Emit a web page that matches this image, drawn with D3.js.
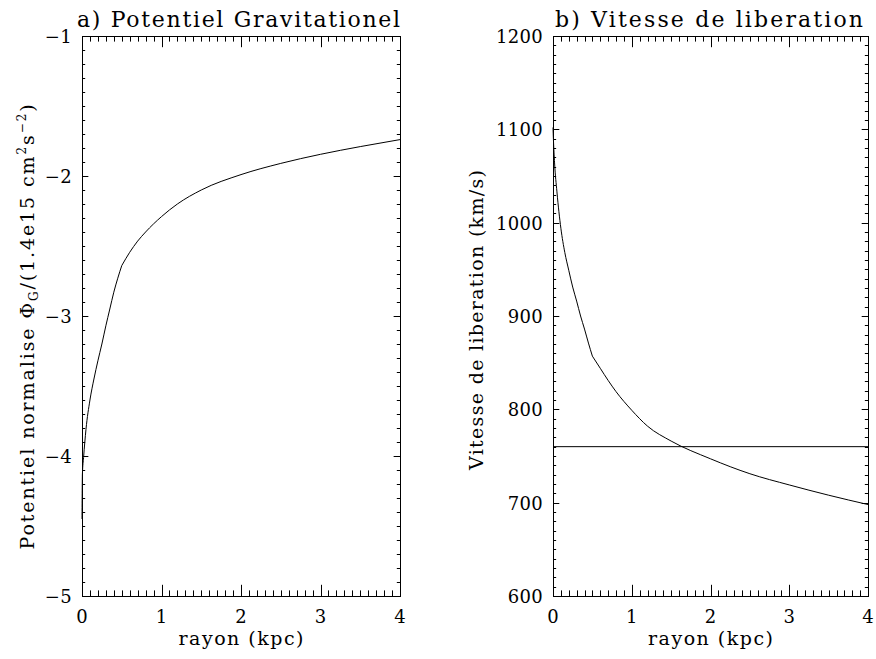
<!DOCTYPE html>
<html><head><meta charset="utf-8">
<script src="https://cdn.jsdelivr.net/npm/d3@7"></script>
<style>
body{margin:0;background:#fff}
text{font-family:"DejaVu Serif",serif;fill:#000}
</style></head>
<body><svg id="c" width="876" height="659"></svg>
<script>
// ---- data ----
const radius    = [0, 0.005, 0.02, 0.05, 0.1, 0.15, 0.2, 0.25, 0.3, 0.35, 0.4, 0.45, 0.5, 0.6, 0.7, 0.8, 1.0, 1.2, 1.5, 2.0, 2.5, 3.0, 3.5, 4.0];
const potentiel = [-4.45, -4.13, -4.01, -3.81, -3.60, -3.45, -3.32, -3.20, -3.07, -2.95, -2.83, -2.73, -2.64, -2.545, -2.465, -2.40, -2.29, -2.20, -2.10, -1.99, -1.91, -1.845, -1.79, -1.74];
const vitesse   = [1102, 1090, 1064, 1033, 994, 968, 949, 931, 916, 900, 886, 871, 857, 844, 831, 819, 799, 782, 766, 747, 731, 719, 708, 698];
const seuil = [760];
const xTicks = [0, 1, 2, 3, 4];
const yTicksA = [-5, -4, -3, -2, -1];
const yTicksB = [600, 700, 800, 900, 1000, 1100, 1200];
const titles = ["a) Potentiel Gravitationel", "b) Vitesse de liberation"];
const xLabel = "rayon (kpc)";
const yLabelB = "Vitesse de liberation (km/s)";
const rayonCoeur = 0.5;   // break in slope of both curves

const svg = d3.select("#c");
const yTop = 36, yBot = 596;

function panel(cfg) {
  const x = d3.scaleLinear().domain([0, 4]).range([cfg.x0, cfg.x1]);
  const y = d3.scaleLinear().domain(cfg.ydom).range([yBot, yTop]);
  const g = svg.append("g");
  const xMinor = d3.range(0, 4.0001, 0.1);
  const yMinor = d3.range(cfg.ydom[0], cfg.ydom[1] + 1e-6, cfg.yminor);
  const W = cfg.x1 - cfg.x0, H = yBot - yTop;
  const xMaj = 0.02 * H, yMaj = 0.02 * W;
  const tk = g.append("g").attr("stroke", "#000").attr("stroke-width", 1);
  xMinor.forEach(v => {
    const isMaj = Math.abs(v - Math.round(v)) < 1e-6;
    const L = isMaj ? xMaj : xMaj / 2;
    const px = Math.round(x(v)) + 0.5;
    tk.append("line").attr("x1", px).attr("x2", px).attr("y1", yBot).attr("y2", yBot - L);
    tk.append("line").attr("x1", px).attr("x2", px).attr("y1", yTop).attr("y2", yTop + L);
  });
  yMinor.forEach(v => {
    const r = (v - cfg.ydom[0]) / cfg.ystep;
    const isMaj = Math.abs(r - Math.round(r)) < 1e-6;
    const L = isMaj ? yMaj : yMaj / 2;
    const py = Math.round(y(v)) + 0.5;
    tk.append("line").attr("x1", cfg.x0).attr("x2", cfg.x0 + L).attr("y1", py).attr("y2", py);
    tk.append("line").attr("x1", cfg.x1).attr("x2", cfg.x1 - L).attr("y1", py).attr("y2", py);
  });
  g.append("rect").attr("x", cfg.x0 + 0.5).attr("y", yTop + 0.5)
    .attr("width", W).attr("height", H).attr("fill", "none").attr("stroke", "#000");
  g.selectAll(".xl").data(xTicks).join("text")
    .attr("x", d => x(d)).attr("y", yBot + 27).attr("text-anchor", "middle")
    .attr("font-size", 18).text(d => d);
  g.selectAll(".yl").data(cfg.yticks).join("text")
    .attr("x", cfg.x0 - 10).attr("y", d => y(d) + 7).attr("text-anchor", "end")
    .attr("font-size", 18).attr("letter-spacing", 0.3).text(d => d < 0 ? "\u2212" + Math.abs(d) : d);
  g.append("text").attr("x", (cfg.x0 + cfg.x1) / 2).attr("y", 645).attr("text-anchor", "middle")
    .attr("font-size", 19).attr("textLength", 125).attr("lengthAdjust", "spacing").text(xLabel);
  g.append("text").attr("x", cfg.tx).attr("y", 27).attr("font-size", 22)
    .attr("textLength", cfg.tw).attr("lengthAdjust", "spacing").text(cfg.title);
  return {x, y, g};
}

const A = panel({x0: 82, x1: 400, ydom: [-5, -1], ystep: 1, yminor: 0.1, yticks: yTicksA, tx: 77, tw: 323, title: titles[0]});
const B = panel({x0: 553, x1: 868, ydom: [600, 1200], ystep: 100, yminor: 10, yticks: yTicksB, tx: 555, tw: 308, title: titles[1]});

const data = radius.map((r, i) => ({r, p: potentiel[i], v: vitesse[i]}));
const inner = data.filter(d => d.r <= rayonCoeur);
const outer = data.filter(d => d.r >= rayonCoeur);
[inner, outer].forEach(seg => {
  A.g.append("path").datum(seg).attr("fill", "none").attr("stroke", "#000").attr("stroke-width", 1)
    .attr("d", d3.line().curve(d3.curveMonotoneX).x(d => A.x(d.r)).y(d => A.y(d.p)));
  B.g.append("path").datum(seg).attr("fill", "none").attr("stroke", "#000").attr("stroke-width", 1)
    .attr("d", d3.line().curve(d3.curveMonotoneX).x(d => B.x(d.r)).y(d => B.y(d.v)));
});
B.g.selectAll(".seuil").data(seuil).join("line")
  .attr("x1", B.x(0)).attr("x2", B.x(4)).attr("y1", d => B.y(d)).attr("y2", d => B.y(d))
  .attr("stroke", "#000").attr("stroke-width", 1);

const la = svg.append("text").attr("transform", "translate(34,326) rotate(-90)")
  .attr("text-anchor", "middle").attr("font-size", 19).attr("letter-spacing", 1.9);
la.append("tspan").text("Potentiel normalise \u03A6");
la.append("tspan").attr("dy", 4).attr("font-size", 12).text("G");
la.append("tspan").attr("dy", -4).text("/(1.4e15 cm");
la.append("tspan").attr("dy", -8).attr("font-size", 12).text("2");
la.append("tspan").attr("dy", 8).text("s");
la.append("tspan").attr("dy", -8).attr("font-size", 12).text("\u22122");
la.append("tspan").attr("dy", 8).text(")");

svg.append("text").attr("transform", "translate(483,320) rotate(-90)")
  .attr("text-anchor", "middle").attr("font-size", 19)
  .attr("textLength", 300).attr("lengthAdjust", "spacing").text(yLabelB);
</script></body></html>
